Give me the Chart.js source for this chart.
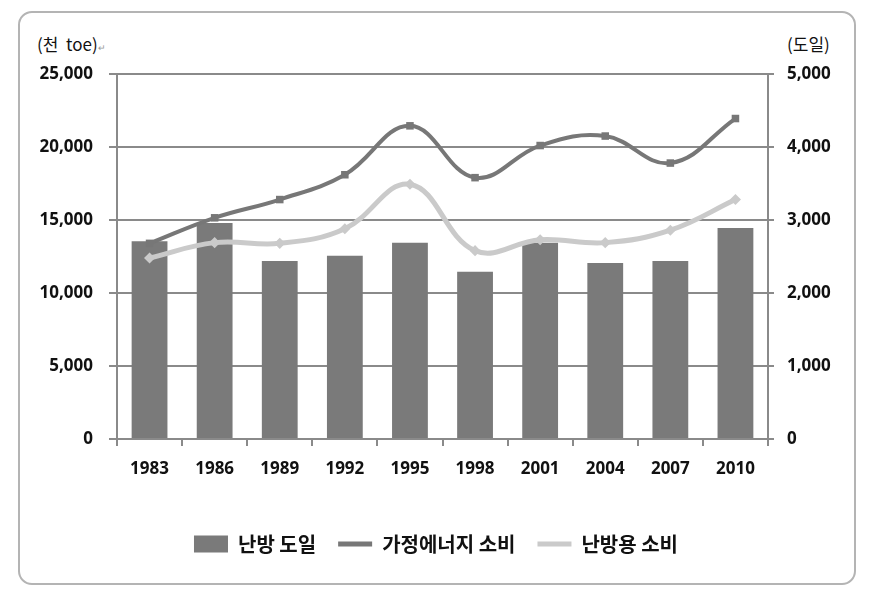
<!DOCTYPE html>
<html>
<head>
<meta charset="utf-8">
<script src="https://cdn.jsdelivr.net/npm/chart.js@4.4.1/dist/chart.umd.min.js"></script>
<style>
    body { margin: 0; background: #fff; }
    #wrap { position: relative; width: 872px; height: 604px; }
    #frame {
        position: absolute; left: 18px; top: 11px; width: 838px; height: 574px;
        border: 2px solid #b4b4b4; border-radius: 14px; box-sizing: border-box;
    }
    #chartBox { position: absolute; left: 0; top: 0; width: 872px; height: 604px; }
    .unit {
        position: absolute; top: 33px; font-family: "Noto Sans CJK KR", sans-serif;
        font-size: 17px; color: #111; line-height: 22px; white-space: pre;
    }
    .unit .ret { font-size: 9px; color: #999; }
</style>
</head>
<body>
<div id="wrap">
    <div id="frame"></div>
    <div class="unit" style="left:37px">(천  toe)<span class="ret">↵</span></div>
    <div class="unit" style="left:787px">(도일)</div>
    <div id="chartBox"><canvas id="eveChart"></canvas></div>
</div>
<script>
// values
const years = ['1983', '1986', '1989', '1992', '1995', '1998', '2001', '2004', '2007', '2010'];
const heatingDegreeDays = [2710, 2960, 2440, 2510, 2690, 2290, 2690, 2410, 2440, 2890];   // 난방 도일 (right axis)
const householdEnergy = [13400, 15150, 16400, 18100, 21450, 17900, 20100, 20750, 18900, 21950]; // 가정에너지 소비
const heatingUse = [12400, 13450, 13400, 14400, 17450, 12900, 13650, 13450, 14300, 16400];  // 난방용 소비

const leftTicks = [0, 5000, 10000, 15000, 20000, 25000];
const rightTicks = [0, 1000, 2000, 3000, 4000, 5000];

const gridGray = '#8a8a8a';
const tickFont = { family: 'Noto Sans', size: 17, weight: 'bold' };

document.addEventListener('DOMContentLoaded', function() {
    drawChart();
});

function drawChart() {
    const ctx = document.getElementById('eveChart').getContext('2d');
    new Chart(ctx, {
        type: 'bar',
        data: {
            labels: years,
            datasets: [{
                type: 'bar',
                label: '난방 도일',
                data: heatingDegreeDays,
                yAxisID: 'yRight',
                backgroundColor: '#7a7a7a',
                barPercentage: 0.55,
                categoryPercentage: 1,
                order: 2
            }, {
                type: 'line',
                label: '가정에너지 소비',
                data: householdEnergy,
                yAxisID: 'yLeft',
                borderColor: '#777777',
                backgroundColor: '#777777',
                borderWidth: 4,
                tension: 0.4,
                pointStyle: 'rect',
                pointRadius: 2.5,
                order: 0
            }, {
                type: 'line',
                label: '난방용 소비',
                data: heatingUse,
                yAxisID: 'yLeft',
                borderColor: '#cacaca',
                backgroundColor: '#cacaca',
                borderWidth: 5,
                tension: 0.4,
                pointStyle: 'rectRot',
                pointRadius: 2,
                order: 1
            }]
        },
        options: {
            responsive: true,
            maintainAspectRatio: false,
            animation: false,
            devicePixelRatio: 1,
            locale: 'en-US',
            layout: { padding: { top: 74, bottom: 40, left: 0, right: 0 } },
            plugins: {
                tooltip: { enabled: false },
                legend: {
                    position: 'bottom',
                    labels: {
                        usePointStyle: true,
                        pointStyleWidth: 34,
                        boxHeight: 17,
                        padding: 22,
                        color: '#111',
                        font: { family: 'Noto Sans CJK KR', size: 20, weight: 'bold' },
                        generateLabels: function(chart) {
                            return chart.data.datasets.map(function(ds, i) {
                                const isBar = ds.type === 'bar';
                                return {
                                    text: ds.label,
                                    datasetIndex: i,
                                    fillStyle: ds.backgroundColor,
                                    strokeStyle: ds.borderColor || ds.backgroundColor,
                                    lineWidth: isBar ? 0 : 5,
                                    pointStyle: isBar ? 'rect' : 'line',
                                    fontColor: '#111',
                                    hidden: false
                                };
                            });
                        }
                    }
                }
            },
            scales: {
                x: {
                    offset: true,
                    grid: { offset: true, drawOnChartArea: false, color: gridGray, lineWidth: 2, tickLength: 7 },
                    border: { color: gridGray, width: 2 },
                    ticks: { color: '#111', font: tickFont, padding: 13, maxRotation: 0 },
                    afterFit: function(scale) { scale.height = 73; }
                },
                yLeft: {
                    position: 'left',
                    min: 0,
                    max: 25000,
                    afterBuildTicks: function(scale) { scale.ticks = leftTicks.map(v => ({ value: v })); },
                    grid: { color: gridGray, lineWidth: 2, tickLength: 8 },
                    border: { color: gridGray, width: 2 },
                    ticks: { color: '#111', font: tickFont, padding: 16 },
                    afterFit: function(scale) { scale.width = 117; }
                },
                yRight: {
                    position: 'right',
                    min: 0,
                    max: 5000,
                    afterBuildTicks: function(scale) { scale.ticks = rightTicks.map(v => ({ value: v })); },
                    grid: { drawOnChartArea: false, color: gridGray, lineWidth: 2, tickLength: 6 },
                    border: { color: gridGray, width: 2 },
                    ticks: { color: '#111', font: tickFont, padding: 13 },
                    afterFit: function(scale) { scale.width = 104; }
                }
            }
        }
    });
}
</script>
</body>
</html>
